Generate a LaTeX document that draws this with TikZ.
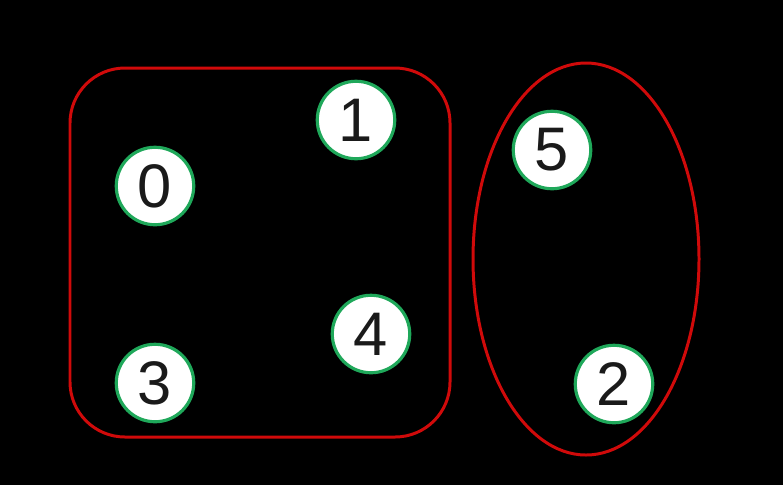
\documentclass[tikz,border=0pt]{standalone}
\usepackage{fontspec}
\setmainfont{Liberation Sans}
\usepackage{xcolor}
\usetikzlibrary{positioning}
\definecolor{bgc}{HTML}{000000}
\definecolor{ringc}{HTML}{1FA85A}
\definecolor{setc}{HTML}{D00A0A}
\definecolor{digc}{HTML}{1A1A1A}
\tikzset{
  vtx/.style={circle,draw=ringc,line width=1.8pt,fill=white,minimum size=1.55cm,inner sep=0pt,
    text=digc,font=\fontsize{35}{40}\selectfont},
  grp/.style={draw=setc,line width=1.7pt}
}
\begin{document}
\begin{tikzpicture}[x=0.02cm,y=-0.02cm]
\fill[bgc] (0,0) rectangle (783,485);
\useasboundingbox (0,0) rectangle (783,485);
% the two sets
\draw[grp,rounded corners=1.1cm] (70,68) rectangle (450,437);
\draw[grp] (586,259) ellipse [x radius=113, y radius=196];
% vertices
\node[vtx] (n0) at (155,186) {0};
\node[vtx] (n1) at (356,120) {1};
\node[vtx] (n3) at (155,383) {3};
\node[vtx] (n4) at (371,334) {4};
\node[vtx] (n5) at (552,150) {5};
\node[vtx] (n2) at (614,384) {2};
\end{tikzpicture}
\end{document}
